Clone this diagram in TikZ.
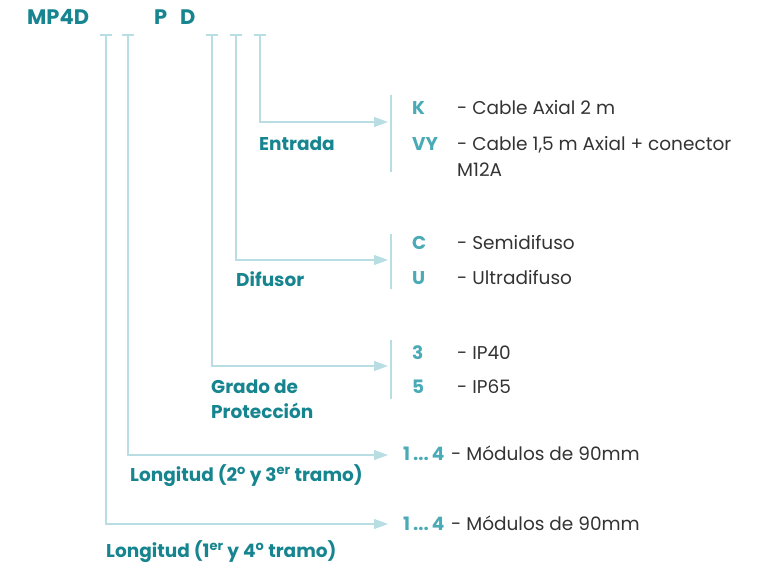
\documentclass[tikz,border=0pt]{standalone}
\usepackage{fontspec}
\setmainfont{Poppins}
\usetikzlibrary{arrows.meta}
\definecolor{lbl}{HTML}{17858F}
\definecolor{code}{HTML}{4AAAB6}
\definecolor{ln}{HTML}{B8DDE3}
\definecolor{txt}{HTML}{333333}
\tikzset{
  lab/.style={font=\fontsize{18.5}{22}\selectfont\bfseries, text=lbl, inner sep=0pt, anchor=base west},
  cd/.style={font=\fontsize{18.5}{22}\selectfont\bfseries, text=code, inner sep=0pt, anchor=base west},
  tx/.style={font=\fontsize{18.5}{22}\selectfont, text=txt, inner sep=0pt, anchor=base west},
  conn/.style={draw=ln, line width=1.2pt, -{Triangle[length=14pt,width=10pt]}},
  bar/.style={draw=ln, line width=1.2pt},
  tick/.style={draw=ln, line width=1.2pt}
}
\begin{document}
\begin{tikzpicture}[x=1pt,y=-1pt]
\useasboundingbox (0,0) rectangle (758,567);
% header
\node[lab, font=\fontsize{21}{24}\selectfont\bfseries] (mp) at (27,25) {MP4D};
\node[lab, font=\fontsize{21}{24}\selectfont\bfseries] (p) at (154,25) {P};
\node[lab, font=\fontsize{21}{24}\selectfont\bfseries] (d) at (180,25) {D};
% ticks
\foreach \n/\x in {t1/106,t2/128,t3/212,t4/236,t5/260}{
  \draw[tick] (\x-6,35) -- (\x+6,35);
  \coordinate (\n) at (\x,35);
}
% bars
\draw[bar] (391,95) -- (391,172);
\draw[bar] (391,234) -- (391,289);
\draw[bar] (391,340) -- (391,399);
% connector ends
\coordinate (e5) at (388,122);
\coordinate (e4) at (388,260);
\coordinate (e3) at (388,366);
\coordinate (e2) at (388,455);
\coordinate (e1) at (388,524);
\draw[conn] (t5) |- (e5);
\draw[conn] (t4) |- (e4);
\draw[conn] (t3) |- (e3);
\draw[conn] (t2) |- (e2);
\draw[conn] (t1) |- (e1);
% labels
\node[lab] (entrada) at (259,150) {Entrada};
\node[lab] (difusor) at (236,286) {Difusor};
\node[lab] (grado) at (211,393) {Grado de};
\node[lab] (prot) at (211,418) {Protección};
\node[lab] (long2) at (130,481) {Longitud (2\textsuperscript{o} y 3\textsuperscript{er} tramo)};
\node[lab] (long1) at (106,557) {Longitud (1\textsuperscript{er} y 4\textsuperscript{o} tramo)};
% codes
\node[cd] (k) at (412,115) {K};
\node[tx] (kt) at (457,115) {- Cable Axial 2 m};
\node[cd] (vy) at (412,150) {VY};
\node[tx] (vyt) at (457,150) {- Cable 1,5 m Axial + conector};
\node[tx] (vyt2) at (457,177) {M12A};
\node[cd] (c) at (412,249) {C};
\node[tx] (ct) at (457,249) {- Semidifuso};
\node[cd] (u) at (412,284) {U};
\node[tx] (ut) at (457,284) {- Ultradifuso};
\node[cd] (n3) at (412,359) {3};
\node[tx] (n3t) at (457,359) {- IP40};
\node[cd] (n5) at (412,393) {5};
\node[tx] (n5t) at (457,393) {- IP65};
\node[cd] (r2) at (403,460) {1\,...\,4};
\node[tx] (r2t) at (451,460) {- Módulos de 90mm};
\node[cd] (r1) at (403,530) {1\,...\,4};
\node[tx] (r1t) at (451,530) {- Módulos de 90mm};
\end{tikzpicture}
\end{document}
